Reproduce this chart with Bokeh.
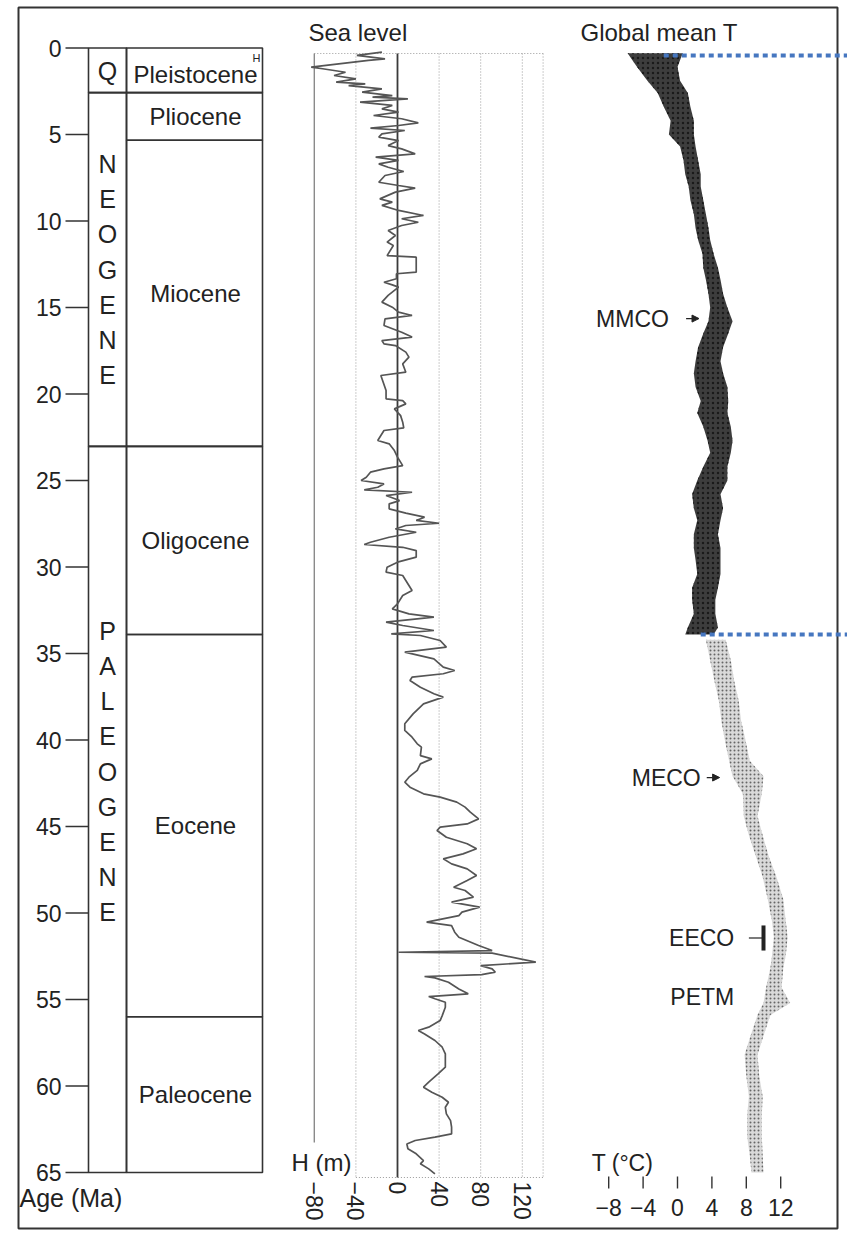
import math
from bokeh.plotting import figure
from bokeh.models import Range1d, Arrow, NormalHead
from bokeh.core.properties import value
from bokeh.embed import file_html
from bokeh.resources import INLINE

FONT = value("Liberation Sans")
INK = "#222222"

# ---------------- data ----------------
# Geologic time scale (Ma)
epoch_names = ["Pleistocene", "Pliocene", "Miocene", "Oligocene", "Eocene", "Paleocene"]
epoch_top_ma = [0.0, 2.58, 5.33, 23.03, 33.9, 56.0]
epoch_base_ma = [2.58, 5.33, 23.03, 33.9, 56.0, 65.0]
era_names = ["Q", "NEOGENE", "PALEOGENE"]
era_top_ma = [0.0, 2.58, 23.03]
era_base_ma = [2.58, 23.03, 65.0]
age_ticks = [0, 5, 10, 15, 20, 25, 30, 35, 40, 45, 50, 55, 60, 65]

# Sea level (m above present)
sea_age_ma = [
    0.24, 0.43, 0.63, 0.72, 1.11, 1.20, 1.40, 1.59, 1.78, 1.97,
    2.07, 2.17, 2.36, 2.55, 2.75, 2.84, 2.94, 3.13, 3.32, 3.52,
    3.71, 3.90, 4.09, 4.33, 4.48, 4.63, 4.77, 4.96, 5.15, 5.35,
    5.64, 5.83, 6.12, 6.31, 6.50, 6.70, 6.89, 7.14, 7.37, 7.76,
    7.95, 8.10, 8.33, 8.72, 8.91, 9.10, 9.39, 9.68, 9.87, 10.07,
    10.26, 10.55, 10.84, 11.22, 11.42, 12.00, 12.09, 12.96, 13.05, 13.34,
    13.54, 13.69, 13.82, 14.30, 14.69, 14.98, 15.27, 15.46, 15.66, 16.04,
    16.43, 16.71, 16.91, 17.10, 17.20, 17.58, 17.87, 18.26, 18.74, 18.93,
    19.80, 20.28, 20.38, 20.57, 20.86, 21.25, 21.63, 21.96, 22.11, 22.40,
    22.69, 22.88, 23.27, 23.65, 24.14, 24.33, 24.52, 24.81, 25.00, 25.20,
    25.39, 25.54, 25.68, 25.87, 26.16, 26.35, 26.64, 26.89, 27.12, 27.31,
    27.47, 27.60, 27.80, 27.99, 28.28, 28.57, 28.70, 28.86, 29.05, 29.43,
    29.72, 30.01, 30.30, 30.49, 30.78, 31.07, 31.36, 31.65, 32.13, 32.42,
    32.71, 32.90, 33.19, 33.38, 33.67, 33.87, 33.96, 34.25, 34.63, 34.92,
    35.31, 35.79, 35.98, 36.17, 36.37, 36.56, 36.95, 37.33, 37.52, 37.91,
    38.49, 39.06, 39.45, 39.84, 40.22, 40.41, 40.90, 41.09, 41.38, 41.76,
    42.15, 42.44, 42.73, 43.11, 43.30, 43.59, 43.88, 44.17, 44.56, 44.85,
    45.04, 45.23, 45.62, 46.00, 46.29, 46.58, 46.87, 47.16, 47.45, 47.83,
    48.12, 48.51, 48.70, 49.08, 49.37, 49.66, 49.95, 50.15, 50.53, 50.73,
    51.11, 51.40, 51.88, 52.17, 52.27, 52.32, 52.84, 53.04, 53.23, 53.42,
    53.56, 53.67, 53.75, 54.00, 54.39, 54.67, 54.83, 54.96, 55.16, 55.45,
    55.93, 56.22, 56.60, 56.79, 56.99, 57.37, 57.76, 58.14, 58.91, 59.30,
    59.78, 60.07, 60.36, 60.65, 60.94, 61.23, 61.61, 62.00, 62.38, 62.77,
    62.96, 63.15, 63.35, 63.63, 63.92, 64.31, 64.50, 64.79, 65.08,
]
sea_level_m = [
    -15, -39, -12, -28, -83, -72, -50, -61, -40, -59,
    -31, -47, -15, -34, -5, -24, 10, -36, -5, -15,
    1, -23, 4, 20, 1, -26, 7, -15, -18, 1,
    -9, 4, 17, -21, 1, -18, -9, 6, -12, -18,
    1, 17, -2, -17, -5, -15, 1, 25, 4, 20,
    4, -9, -2, -10, -4, -10, 18, 18, -1, -1,
    -13, -5, 1, -9, -15, -5, 1, 14, -12, -13,
    4, 14, -15, -13, -2, 8, 11, 5, 8, -16,
    -11, -11, 5, 8, -3, 3, 5, 6, -13, -16,
    -19, -8, -3, 0, 5, -13, -26, -30, -35, -13,
    -19, -32, 14, -11, 2, -8, -8, 8, 26, 18,
    40, 8, -2, 18, -8, -26, -32, 5, 18, 18,
    0, -10, -11, 5, 8, 11, 14, 5, 0, -5,
    11, 35, -11, 5, 35, -6, 22, 41, 47, 7,
    35, 44, 55, 44, 14, 12, 22, 35, 44, 25,
    15, 7, 7, 14, 19, 23, 22, 33, 22, 19,
    11, 7, 12, 25, 41, 57, 65, 70, 78, 67,
    41, 38, 47, 67, 76, 63, 44, 52, 67, 76,
    67, 54, 65, 73, 52, 79, 62, 59, 28, 52,
    55, 59, 78, 91, 1, 91, 133, 80, 91, 94,
    81, 26, 36, 49, 59, 68, 30, 36, 46, 46,
    43, 41, 30, 20, 26, 36, 43, 46, 46, 39,
    30, 25, 33, 43, 49, 46, 47, 51, 52, 52,
    36, 17, 9, 10, 18, 25, 22, 30, 36,
]
sea_ticks = [-80, -40, 0, 40, 80, 120]

# Global mean temperature: spread of the record (low / high edge, deg C)
t_age_ma = [
    0.3, 1.1, 1.9, 2.6, 3.4, 4.2, 5.0, 5.7, 6.5, 7.3,
    8.0, 8.8, 9.6, 10.4, 11.1, 11.9, 12.7, 13.4, 14.2, 15.0,
    15.8, 16.5, 17.3, 18.1, 18.8, 19.6, 20.4, 21.1, 21.9, 22.7,
    23.4, 24.2, 25.0, 25.8, 26.6, 27.3, 28.1, 28.9, 29.6, 30.4,
    31.2, 31.9, 32.7, 33.5, 33.9,
    34.2, 35.4, 36.6, 37.7, 38.9, 40.0, 41.2, 42.1, 43.1, 44.4,
    45.5, 46.7, 47.9, 49.2, 50.5, 51.4, 52.4, 53.2, 54.3, 55.2,
    55.9, 57.1, 58.2, 59.4, 60.6, 61.7, 62.9, 64.0, 65.0,
]
t_low_c = [
    -5.8, -4.7, -3.5, -2.3, -1.6, -0.8, -1.0, 0.3, 0.7, 0.9,
    1.3, 1.5, 1.9, 2.1, 2.4, 2.9, 3.0, 3.3, 3.6, 3.8,
    3.6, 3.0, 2.4, 2.1, 1.9, 2.1, 2.7, 2.3, 3.0, 3.5,
    3.8, 3.0, 2.3, 1.7, 1.9, 2.3, 1.9, 1.9, 2.1, 2.3,
    1.7, 1.7, 1.9, 1.2, 0.9,
    3.3, 3.8, 4.3, 4.8, 5.1, 5.5, 6.0, 6.4, 7.6, 7.7,
    8.3, 9.1, 9.9, 10.5, 11.0, 11.2, 11.0, 10.8, 10.3, 10.0,
    9.3, 8.5, 7.8, 8.0, 8.3, 8.1, 8.1, 8.4, 8.6,
]
t_high_c = [
    0.6, 0.0, 0.3, 1.2, 1.5, 1.9, 1.9, 2.1, 2.4, 2.7,
    2.7, 3.0, 3.3, 3.6, 3.8, 4.2, 4.7, 5.0, 5.3, 5.8,
    6.4, 5.9, 5.3, 5.0, 5.3, 5.8, 5.9, 5.8, 6.2, 6.4,
    6.2, 5.8, 5.8, 5.0, 5.3, 5.0, 4.7, 5.0, 5.0, 5.0,
    4.7, 4.4, 4.4, 4.7, 4.2,
    5.6, 6.2, 6.6, 7.1, 7.4, 7.9, 8.4, 10.0, 9.8, 9.3,
    9.9, 10.6, 11.5, 12.3, 12.6, 12.8, 12.6, 12.3, 12.1, 13.1,
    10.8, 10.0, 9.3, 9.5, 9.9, 9.8, 9.8, 9.9, 10.0,
]
t_ticks = [-8, -4, 0, 4, 8, 12]
dense_until_ma = 33.9          # dense record of the Neogene/Oligocene

# climate events
mmco_ma, meco_ma, petm_ma = 15.64, 42.17, 54.83
eeco_ma = [50.72, 52.17]
marker_ages_ma = [0.43, 33.9]  # blue reference lines

# ---------------- page geometry ----------------
W, H = 847, 1253
Y0, PX_PER_MA = 47.5, 17.3          # age 0 at y=47.5 px


def ypx(px):
    """page pixel row -> age coordinate"""
    return (px - Y0) / PX_PER_MA


SEA_X0, SEA_SCALE = 397.0, 1.04     # px of 0 m, px per metre
T_X0, T_SCALE = 677.0, 8.6          # px of 0 degC, px per degC

p = figure(width=W, height=H, output_backend="svg", toolbar_location=None,
           x_range=Range1d(0, W), y_range=Range1d(ypx(H), ypx(0)),
           x_axis_type=None, y_axis_type=None, min_border=0,
           background_fill_color="white", border_fill_color="white")
p.grid.visible = False
p.outline_line_color = None
p.extra_x_ranges = {
    "sea": Range1d(-SEA_X0 / SEA_SCALE, (W - SEA_X0) / SEA_SCALE),
    "temp": Range1d(-T_X0 / T_SCALE, (W - T_X0) / T_SCALE),
}

# outer frame
p.quad(left=18, right=837, top=ypx(7), bottom=ypx(1228),
       fill_color=None, line_color="#333333", line_width=2)

# ---------------- time scale column ----------------
COL_L, COL_M, COL_R = 88, 126, 262
p.quad(left=COL_L, right=COL_M, top=era_top_ma, bottom=era_base_ma,
       fill_color=None, line_color="#333333", line_width=1.6)
p.quad(left=COL_M, right=COL_R, top=epoch_top_ma, bottom=epoch_base_ma,
       fill_color=None, line_color="#333333", line_width=1.6)
p.segment(x0=65, x1=COL_L, y0=age_ticks, y1=age_ticks, line_color="#333333", line_width=1.6)
p.text(x=[61] * len(age_ticks), y=age_ticks, text=[str(a) for a in age_ticks],
       text_align="right", text_baseline="middle", text_font=FONT,
       text_font_size="23px", text_color=INK)
p.text(x=[19], y=[ypx(1197)], text=["Age (Ma)"], text_align="left", text_baseline="middle",
       text_font=FONT, text_font_size="25px", text_color=INK)

# epoch names
ep_mid = [(a + b) / 2 for a, b in zip(epoch_top_ma, epoch_base_ma)]
ep_mid[0] += 0.25
p.text(x=[(COL_M + COL_R) / 2 + 1] * len(epoch_names), y=ep_mid, text=epoch_names,
       text_align="center", text_baseline="middle", text_font=FONT,
       text_font_size="24px", text_color=INK)
p.text(x=[256], y=[ypx(57)], text=["H"], text_align="center", text_baseline="middle",
       text_font=FONT, text_font_size="11px", text_color=INK)

# era names, written letter by letter
era_centres = [ypx(70), ypx(269), ypx(771)]
step = 35.2 / PX_PER_MA
for name, mid in zip(era_names, era_centres):
    n = len(name)
    ys = [mid + (i - (n - 1) / 2) * step for i in range(n)]
    p.text(x=[(COL_L + COL_M) / 2] * n, y=ys, text=list(name), text_align="center",
           text_baseline="middle", text_font=FONT, text_font_size="25px", text_color=INK)

# ---------------- sea level panel ----------------
box_top, box_bot = ypx(53), ypx(1177)
p.segment(x0=[-40, 40, 80, 120, 140], x1=[-40, 40, 80, 120, 140], y0=box_top, y1=box_bot,
          x_range_name="sea", line_color="#9a9a9a", line_width=1, line_dash="1 2")
p.segment(x0=[-80, -40], x1=[140, 140], y0=[box_top, box_bot], y1=[box_top, box_bot],
          x_range_name="sea", line_color="#9a9a9a", line_width=1, line_dash="1 2")
p.segment(x0=[-80], x1=[-80], y0=[box_top], y1=[ypx(1142)], x_range_name="sea",
          line_color="#8a8a8a", line_width=1.4)
p.segment(x0=[0], x1=[0], y0=[box_top], y1=[box_bot], x_range_name="sea",
          line_color="#3a3a3a", line_width=1.8)
p.line(x=sea_level_m, y=sea_age_ma, x_range_name="sea", line_color="#555555", line_width=1.7)

p.text(x=sea_ticks, y=[ypx(1181)] * len(sea_ticks),
       text=[str(t).replace("-", "\u2212") for t in sea_ticks],
       x_range_name="sea", angle=-math.pi / 2, text_align="left", text_baseline="middle",
       text_font=FONT, text_font_size="23px", text_color=INK)
p.text(x=[351], y=[ypx(1162)], text=["H (m)"], text_align="right", text_baseline="alphabetic",
       text_font=FONT, text_font_size="24px", text_color=INK)
p.text(x=[308], y=[ypx(32)], text=["Sea level"], text_align="left", text_baseline="middle",
       text_font=FONT, text_font_size="24px", text_color=INK)

# ---------------- temperature panel ----------------
k = sum(1 for a in t_age_ma if a <= dense_until_ma)
p.harea(y=t_age_ma[:k], x1=t_low_c[:k], x2=t_high_c[:k], x_range_name="temp",
        fill_color="#333333", fill_alpha=0.95, hatch_pattern="dot", hatch_color="#111111",
        hatch_scale=5, hatch_alpha=0.8)
p.harea(y=t_age_ma[k:], x1=t_low_c[k:], x2=t_high_c[k:], x_range_name="temp",
        fill_color="#cfcfcf", fill_alpha=0.8, hatch_pattern="dot", hatch_color="#5a5a5a",
        hatch_scale=4, hatch_alpha=0.9)

p.segment(x0=t_ticks, x1=t_ticks, y0=ypx(1176), y1=ypx(1188), x_range_name="temp",
          line_color="#333333", line_width=1.4)
p.text(x=t_ticks, y=[ypx(1207)] * len(t_ticks),
       text=[str(t).replace("-", "\u2212") for t in t_ticks], x_range_name="temp",
       text_align="center", text_baseline="middle", text_font=FONT,
       text_font_size="23px", text_color=INK)
p.text(x=[622], y=[ypx(1162)], text=["T (\u00b0C)"], text_align="center",
       text_baseline="alphabetic", text_font=FONT, text_font_size="23px", text_color=INK)
p.text(x=[580], y=[ypx(32)], text=["Global mean T"], text_align="left",
       text_baseline="middle", text_font=FONT, text_font_size="24px", text_color=INK)

# event labels
p.text(x=[-1.0, 2.7, 6.6, 6.6], y=[mmco_ma, meco_ma, sum(eeco_ma) / 2, petm_ma],
       text=["MMCO", "MECO", "EECO", "PETM"], x_range_name="temp",
       text_align="right", text_baseline="middle", text_font=FONT,
       text_font_size="23px", text_color=INK)
for age, x0, x1 in [(mmco_ma, 1.0, 2.5), (meco_ma, 3.4, 4.9)]:
    p.add_layout(Arrow(end=NormalHead(size=7, fill_color=INK, line_color=INK),
                       x_start=x0, x_end=x1, y_start=age, y_end=age,
                       x_range_name="temp", line_color=INK, line_width=1.2))
p.segment(x0=[8.3], x1=[10.0], y0=[sum(eeco_ma) / 2], y1=[sum(eeco_ma) / 2],
          x_range_name="temp", line_color=INK, line_width=1.2)
p.segment(x0=[10.0], x1=[10.0], y0=[eeco_ma[0]], y1=[eeco_ma[1]],
          x_range_name="temp", line_color=INK, line_width=4)

# blue reference lines at present and at the Eocene/Oligocene boundary
p.segment(x0=[-1.6, 2.7], x1=[(W - T_X0) / T_SCALE] * 2, y0=marker_ages_ma, y1=marker_ages_ma,
          x_range_name="temp", line_color="#4677c0", line_width=4, line_dash="5 4")

open("out.html", "w").write(file_html(p, INLINE))
